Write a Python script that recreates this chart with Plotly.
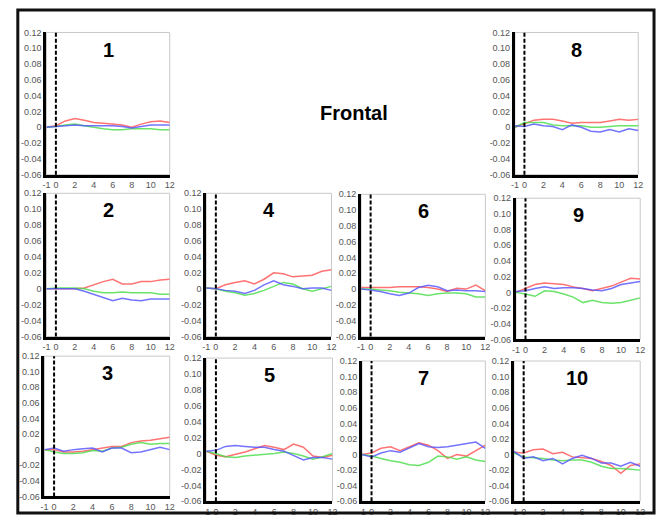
import plotly.graph_objects as go

W, H = 661, 521

X = [-1, 0, 1, 2, 3, 4, 5, 6, 7, 8, 9, 10, 11, 12]

red_1 = [0, 0.002, 0.008, 0.011, 0.009, 0.006, 0.005, 0.004, 0.003, 0.0, 0.004, 0.007, 0.008, 0.006]
green_1 = [0, 0.001, 0.003, 0.004, 0.002, 0.0, -0.002, -0.003, -0.003, -0.002, -0.002, -0.002, -0.003, -0.003]
blue_1 = [0, 0.001, 0.002, 0.003, 0.002, 0.002, 0.002, 0.002, 0.001, -0.001, 0.001, 0.003, 0.003, 0.003]

red_2 = [0, 0, 0, 0, 0.001, 0.005, 0.009, 0.012, 0.006, 0.006, 0.009, 0.009, 0.011, 0.012]
green_2 = [0, 0.001, 0.001, 0.001, 0, -0.003, -0.005, -0.005, -0.004, -0.005, -0.005, -0.005, -0.007, -0.007]
blue_2 = [0, 0, 0, 0, -0.003, -0.007, -0.011, -0.015, -0.012, -0.014, -0.015, -0.013, -0.013, -0.013]

red_3 = [0, 0, -0.003, -0.003, -0.002, 0, 0.002, 0.004, 0.004, 0.009, 0.011, 0.012, 0.014, 0.016]
green_3 = [0, -0.003, -0.005, -0.005, -0.004, -0.001, -0.002, 0.002, 0.003, 0.007, 0.009, 0.007, 0.008, 0.008]
blue_3 = [0, 0.002, -0.002, 0, 0.001, 0.002, -0.003, 0.002, 0.002, -0.004, -0.003, 0, 0.003, 0]

red_4 = [0.001, 0, 0.005, 0.008, 0.01, 0.006, 0.012, 0.02, 0.019, 0.015, 0.016, 0.017, 0.022, 0.024]
green_4 = [0.001, 0, -0.003, -0.005, -0.008, -0.006, -0.002, 0.003, 0.008, 0.006, 0, -0.003, 0, 0.003]
blue_4 = [0.001, 0, -0.002, -0.003, -0.006, -0.002, 0.005, 0.01, 0.005, 0.003, 0, 0.001, 0.001, -0.002]

red_5 = [0.003, -0.002, -0.004, -0.001, 0.002, 0.006, 0.01, 0.008, 0.005, 0.012, 0.008, -0.003, -0.005, -0.002]
green_5 = [0.003, 0, -0.004, -0.005, -0.003, -0.002, -0.001, 0, 0.002, 0, -0.003, -0.007, -0.004, 0]
blue_5 = [0.003, 0.004, 0.009, 0.01, 0.009, 0.008, 0.008, 0.005, 0.003, -0.002, -0.008, -0.005, -0.005, -0.007]

red_6 = [0.002, 0.002, 0.002, 0.002, 0.003, 0.003, 0.003, 0.002, 0, -0.003, 0.001, 0, 0.005, -0.002]
green_6 = [0, 0, -0.001, -0.002, -0.004, -0.005, -0.006, -0.008, -0.006, -0.005, -0.005, -0.006, -0.01, -0.01]
blue_6 = [0, -0.001, -0.003, -0.006, -0.008, -0.005, 0.002, 0.005, 0.003, -0.002, -0.001, -0.002, -0.002, -0.003]

red_7 = [0, 0.002, 0.008, 0.01, 0.005, 0.01, 0.015, 0.012, 0.005, -0.005, 0, -0.002, 0.005, 0.012]
green_7 = [0, -0.002, -0.005, -0.008, -0.01, -0.013, -0.014, -0.01, -0.002, -0.003, -0.006, -0.003, -0.007, -0.009]
blue_7 = [0, -0.003, 0.002, 0.005, 0.003, 0.008, 0.014, 0.01, 0.009, 0.01, 0.012, 0.014, 0.016, 0.008]

red_8 = [0, 0.005, 0.009, 0.01, 0.01, 0.008, 0.005, 0.006, 0.006, 0.006, 0.008, 0.01, 0.009, 0.01]
green_8 = [0, 0.006, 0.006, 0.006, 0.003, 0.002, 0.002, 0.002, 0, 0, 0.001, 0.002, 0.002, 0.002]
blue_8 = [0.002, 0.001, 0.004, 0.002, 0.001, -0.003, 0.003, 0, -0.005, -0.006, -0.003, -0.006, -0.002, -0.004]

red_9 = [0, 0.005, 0.01, 0.012, 0.011, 0.01, 0.007, 0.005, 0.002, 0.005, 0.008, 0.013, 0.018, 0.017]
green_9 = [0, -0.002, -0.005, 0.002, 0.001, -0.002, -0.006, -0.013, -0.01, -0.013, -0.014, -0.013, -0.01, -0.007]
blue_9 = [0.001, 0.002, 0.005, 0.007, 0.005, 0.006, 0.006, 0.005, 0.003, 0.002, 0.005, 0.01, 0.012, 0.014]

red_10 = [0.003, 0.002, 0.006, 0.007, 0.001, 0.003, -0.003, -0.004, -0.005, -0.009, -0.014, -0.024, -0.014, -0.012]
green_10 = [0.002, -0.003, -0.004, -0.005, -0.007, -0.008, -0.007, -0.007, -0.01, -0.015, -0.018, -0.018, -0.019, -0.02]
blue_10 = [0.004, -0.005, -0.003, -0.008, -0.005, -0.012, -0.005, -0.001, -0.005, -0.011, -0.011, -0.015, -0.01, -0.015]

Y_TICKS = [0.12, 0.10, 0.08, 0.06, 0.04, 0.02, 0, -0.02, -0.04, -0.06]
Y_TICKTEXT = ["0.12", "0.10", "0.08", "0.06", "0.04", "0.02", "0", "-0.02", "-0.04", "-0.06"]
X_TICKS = [-1, 0, 2, 4, 6, 8, 10, 12]
X_TICKTEXT = ["-1", "0", "2", "4", "6", "8", "10", "12"]

PANEL_LABELS = ["1", "2", "3", "4", "5", "6", "7", "8", "9", "10"]
SERIES = {
    "1": (red_1, green_1, blue_1),
    "2": (red_2, green_2, blue_2),
    "3": (red_3, green_3, blue_3),
    "4": (red_4, green_4, blue_4),
    "5": (red_5, green_5, blue_5),
    "6": (red_6, green_6, blue_6),
    "7": (red_7, green_7, blue_7),
    "8": (red_8, green_8, blue_8),
    "9": (red_9, green_9, blue_9),
    "10": (red_10, green_10, blue_10),
}

# panel boxes in pixels: left, right, top, bottom
BOXES = {
    "1": (43, 168, 28, 173),
    "8": (518, 643, 28, 173),
    "2": (43, 168, 192, 338),
    "4": (205, 332, 192, 338),
    "6": (362, 488, 193, 338),
    "9": (519, 645, 197, 341),
    "3": (41, 168, 358, 501),
    "5": (205, 333, 360, 506),
    "7": (363, 488, 363, 506),
    "10": (517, 645, 363, 506),
}

COLORS = ["rgba(255,80,80,0.8)", "rgba(70,220,70,0.8)", "rgba(80,80,255,0.8)"]
NAMES = ["red", "green", "blue"]

fig = go.Figure()
layout = dict(
    width=W, height=H, margin=dict(l=0, r=0, t=0, b=0),
    paper_bgcolor="white", plot_bgcolor="white", showlegend=False,
    font=dict(family="Liberation Sans, Arial, sans-serif"),
)
shapes = []
annotations = []

for i, lab in enumerate(PANEL_LABELS, start=1):
    l, r, t, b = BOXES[lab]
    xa = "xaxis" if i == 1 else f"xaxis{i}"
    ya = "yaxis" if i == 1 else f"yaxis{i}"
    xr = "x" if i == 1 else f"x{i}"
    yr = "y" if i == 1 else f"y{i}"
    layout[xa] = dict(
        domain=[l / W, r / W], anchor=yr, range=[-1, 12],
        tickvals=X_TICKS, ticktext=X_TICKTEXT, showgrid=False, zeroline=False,
        showline=True, linecolor="black", linewidth=3, tickangle=0,
        tickfont=dict(size=9, color="#555"), ticks="", ticklen=0,
    )
    layout[ya] = dict(
        domain=[1 - b / H, 1 - t / H], anchor=xr, range=[-0.06, 0.12],
        tickvals=Y_TICKS, ticktext=Y_TICKTEXT, showgrid=False, zeroline=False,
        showline=True, linecolor="black", linewidth=3,
        tickfont=dict(size=9, color="#555"), ticks="", ticklen=0,
    )
    # light frame
    shapes.append(dict(type="rect", xref=f"{xr} domain", yref=f"{yr} domain",
                       x0=0, x1=1, y0=0, y1=1, line=dict(color="#c8c8c8", width=1),
                       layer="below"))
    # dashed line at x = 0
    shapes.append(dict(type="line", xref=xr, yref=f"{yr} domain",
                       x0=0, x1=0, y0=0, y1=1,
                       line=dict(color="black", width=2, dash="4px,2px")))
    for vals, col, nm in zip(SERIES[lab], COLORS, NAMES):
        fig.add_trace(go.Scatter(x=X, y=vals, mode="lines", name=nm,
                                 line=dict(color=col, width=1.5),
                                 xaxis=xr, yaxis=yr, hoverinfo="skip"))
    annotations.append(dict(text=f"<b>{lab}</b>", xref=f"{xr} domain", yref=f"{yr} domain",
                            x=0.5, y=0.88, showarrow=False,
                            font=dict(size=20, color="black",
                                      family="Liberation Sans, Arial, sans-serif"),
                            xanchor="center", yanchor="middle"))

annotations.append(dict(text="<b>Frontal</b>", xref="paper", yref="paper",
                        x=355 / W, y=1 - 110 / H, showarrow=False,
                        font=dict(size=20, color="black"),
                        xanchor="center", yanchor="middle"))

# outer frame
shapes.append(dict(type="rect", xref="paper", yref="paper",
                   x0=14 / W, x1=659 / W, y0=1 - 518 / H, y1=1 - 5 / H,
                   line=dict(color="#111", width=3)))

layout["shapes"] = shapes
layout["annotations"] = annotations
fig.update_layout(**layout)
fig.write_html("out.html", config={"displayModeBar": False},
               post_script="document.body.style.margin='0px';document.body.style.padding='0px';")
